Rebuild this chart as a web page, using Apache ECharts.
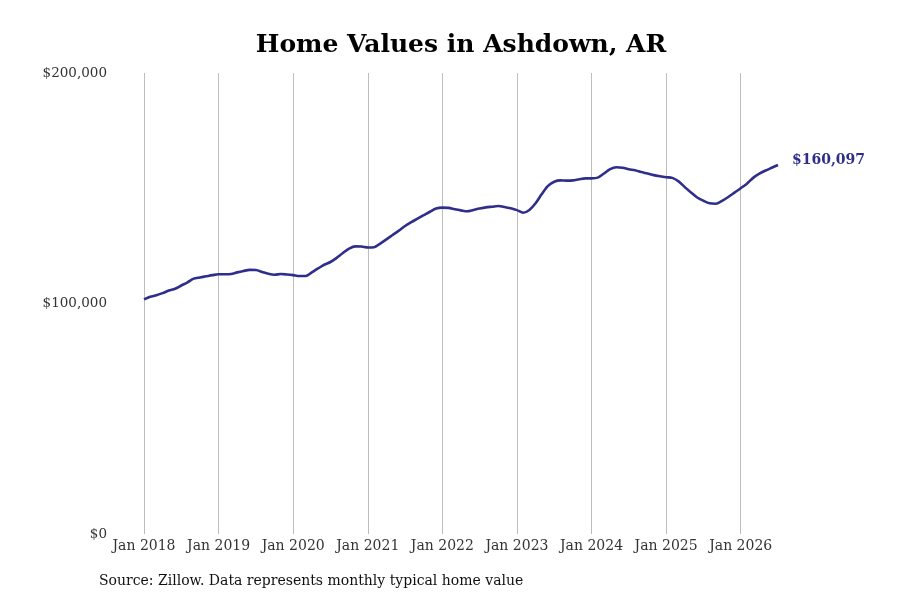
<!DOCTYPE html>
<html>
<head>
<meta charset="utf-8">
<script src="https://cdn.jsdelivr.net/npm/echarts@6/dist/echarts.min.js"></script>
<style>
html,body{margin:0;padding:0;background:#fff;}
#chart{width:900px;height:600px;}
</style>
</head>
<body>
<div id="chart"></div>
<script>
const years = [2018, 2019, 2020, 2021, 2022, 2023, 2024, 2025, 2026];
const monthNames = ['Jan','Feb','Mar','Apr','May','Jun','Jul','Aug','Sep','Oct','Nov','Dec'];
const values2018 = [101.8, 102.9, 103.6, 104.5, 105.6, 106.4, 107.8, 109.2, 110.8, 111.3, 111.8, 112.3];
const values2019 = [112.7, 112.7, 112.8, 113.5, 114.1, 114.6, 114.5, 113.7, 112.9, 112.5, 112.8, 112.6];
const values2020 = [112.3, 111.9, 111.9, 113.5, 115.2, 116.8, 118.0, 119.8, 121.9, 123.8, 124.8, 124.7];
const values2021 = [124.3, 124.4, 126.0, 127.8, 129.7, 131.6, 133.6, 135.3, 136.8, 138.3, 139.8, 141.2];
const values2022 = [141.6, 141.5, 140.9, 140.4, 140.0, 140.6, 141.2, 141.7, 142.0, 142.3, 141.9, 141.3];
const values2023 = [140.5, 139.4, 140.6, 143.5, 147.5, 151.0, 152.8, 153.4, 153.3, 153.4, 153.9, 154.3];
const values2024 = [154.3, 154.6, 156.4, 158.3, 159.1, 158.9, 158.2, 157.8, 157.0, 156.4, 155.7, 155.2];
const values2025 = [154.8, 154.5, 153.0, 150.5, 148.2, 146.0, 144.6, 143.5, 143.3, 144.5, 146.2, 148.1];
const values2026 = [150.0, 152.0, 154.5, 156.3, 157.7, 158.9, 160.097];
const yTicks = [0, 100000, 200000];
const lastLabel = '$160,097';
const titleText = 'Home Values in Ashdown, AR';
const sourceText = 'Source: Zillow. Data represents monthly typical home value';

const yearly = [values2018, values2019, values2020, values2021, values2022, values2023, values2024, values2025, values2026];
const categories = [];
const values = [];
yearly.forEach((arr, yi) => {
  arr.forEach((v, mi) => {
    categories.push(monthNames[mi] + ' ' + years[yi]);
    values.push(Math.round(v * 1000));
  });
});
values[values.length - 1] = 160097;

const FONT = 'DejaVu Serif';
const LINE = '#2f2e8b';
const chart = echarts.init(document.getElementById('chart'), null, {renderer: 'canvas'});
chart.setOption({
  backgroundColor: '#fff',
  animation: false,
  title: {
    text: titleText,
    left: 456,
    textAlign: 'center',
    top: 28,
    textStyle: {fontFamily: FONT, fontSize: 25, fontWeight: 'bold', color: '#000'}
  },
  graphic: [{
    type: 'text',
    left: 99,
    top: 574,
    style: {text: sourceText, font: '14px "DejaVu Serif"', fill: '#111'}
  }],
  grid: {left: 144, right: 122, top: 73, bottom: 66, containLabel: false},
  xAxis: {
    type: 'category',
    data: categories,
    boundaryGap: false,
    axisLine: {show: false},
    axisTick: {show: false},
    axisLabel: {
      interval: (i) => i % 12 === 0,
      formatter: (v) => v,
      fontFamily: FONT,
      fontSize: 14,
      color: '#333',
      margin: 5
    },
    splitLine: {
      show: true,
      interval: (i) => i % 12 === 0,
      lineStyle: {color: '#bdbdbd', width: 1}
    }
  },
  yAxis: {
    type: 'value',
    min: yTicks[0],
    max: yTicks[yTicks.length - 1],
    interval: 100000,
    axisLine: {show: false},
    axisTick: {show: false},
    splitLine: {show: false},
    axisLabel: {
      formatter: (v) => '$' + v.toLocaleString('en-US'),
      fontFamily: FONT,
      fontSize: 13.5,
      color: '#333',
      margin: 37
    }
  },
  series: [{
    type: 'line',
    data: values,
    smooth: 0.3,
    showSymbol: false,
    lineStyle: {color: LINE, width: 2.6},
    itemStyle: {color: LINE},
    endLabel: {
      show: true,
      formatter: () => lastLabel,
      fontFamily: FONT,
      fontSize: 14,
      fontWeight: 'bold',
      color: LINE,
      distance: 14,
      offset: [0, -5]
    }
  }]
});
</script>
</body>
</html>
